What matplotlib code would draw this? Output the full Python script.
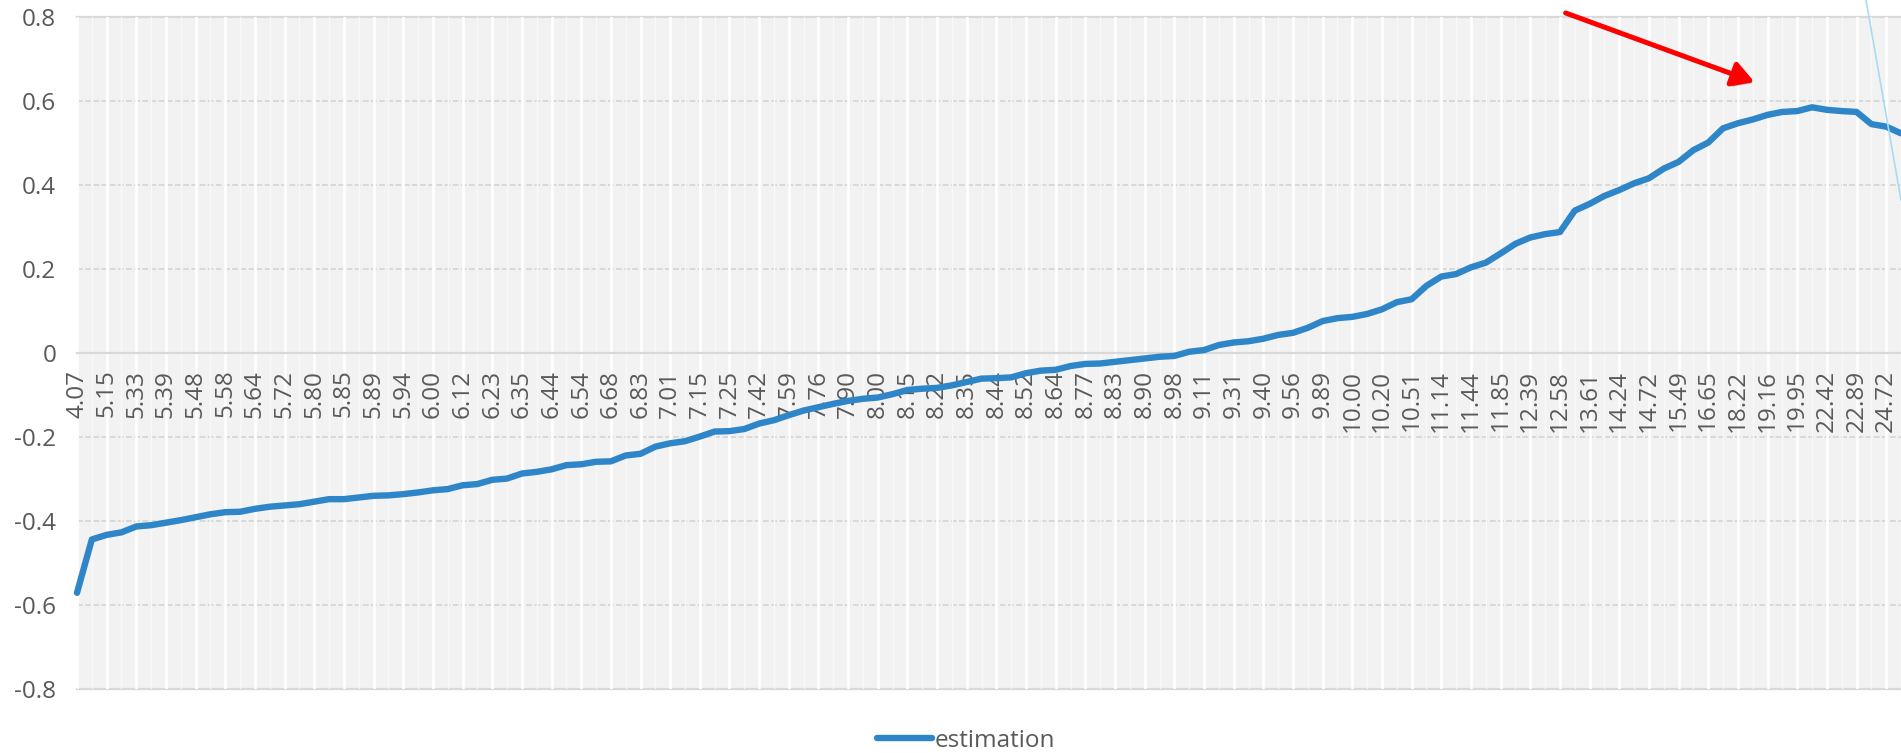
import matplotlib
matplotlib.use("Agg")
import matplotlib.pyplot as plt
import matplotlib.patheffects as pe
from matplotlib.patches import FancyArrowPatch
from matplotlib.lines import Line2D

plt.rcParams['font.family'] = ['Open Sans', 'DejaVu Sans']

# ---- data ----
tick_labels = ["4.07", "5.15", "5.33", "5.39", "5.48", "5.58", "5.64", "5.72", "5.80", "5.85",
               "5.89", "5.94", "6.00", "6.12", "6.23", "6.35", "6.44", "6.54", "6.68", "6.83",
               "7.01", "7.15", "7.25", "7.42", "7.59", "7.76", "7.90", "8.00", "8.15", "8.22",
               "8.35", "8.44", "8.52", "8.64", "8.77", "8.83", "8.90", "8.98", "9.11", "9.31",
               "9.40", "9.56", "9.89", "10.00", "10.20", "10.51", "11.14", "11.44", "11.85", "12.39",
               "12.58", "13.61", "14.24", "14.72", "15.49", "16.65", "18.22", "19.16", "19.95", "22.42",
               "22.89", "24.72"]

estimation = [-0.571, -0.444, -0.433, -0.427, -0.413, -0.410, -0.404, -0.398, -0.391, -0.384,
              -0.379, -0.378, -0.371, -0.366, -0.363, -0.360, -0.354, -0.348, -0.348, -0.344,
              -0.340, -0.339, -0.336, -0.332, -0.327, -0.324, -0.315, -0.312, -0.302, -0.299,
              -0.287, -0.283, -0.277, -0.267, -0.265, -0.259, -0.258, -0.244, -0.240, -0.223,
              -0.215, -0.210, -0.199, -0.187, -0.186, -0.181, -0.168, -0.160, -0.148, -0.137,
              -0.129, -0.121, -0.114, -0.109, -0.106, -0.098, -0.088, -0.085, -0.083, -0.077,
              -0.069, -0.061, -0.060, -0.058, -0.048, -0.042, -0.040, -0.031, -0.026, -0.025,
              -0.021, -0.017, -0.013, -0.009, -0.007, 0.003, 0.007, 0.019, 0.025, 0.028,
              0.034, 0.043, 0.048, 0.060, 0.076, 0.083, 0.086, 0.093, 0.104, 0.121,
              0.128, 0.160, 0.182, 0.188, 0.204, 0.215, 0.237, 0.260, 0.275, 0.283,
              0.288, 0.339, 0.355, 0.374, 0.388, 0.404, 0.416, 0.439, 0.455, 0.483,
              0.501, 0.535, 0.547, 0.556, 0.567, 0.574, 0.576, 0.585, 0.579, 0.576,
              0.574, 0.545, 0.539, 0.523]

label_step = 2
y_ticks = [-0.8, -0.6, -0.4, -0.2, 0, 0.2, 0.4, 0.6, 0.8]
y_tick_labels = ["-0.8", "-0.6", "-0.4", "-0.2", "0", "0.2", "0.4", "0.6", "0.8"]

# ---- figure ----
W, H = 1901, 753
fig = plt.figure(figsize=(W / 100, H / 100), dpi=100)
left, right, top, bottom = 77, 1901, 17, 689
ax = fig.add_axes([left / W, 1 - bottom / H, (right - left) / W, (bottom - top) / H])

n = len(estimation)
x = list(range(n))
ax.set_xlim(0, n - 1)
ax.set_ylim(-0.8, 0.8)
ax.set_facecolor('#F2F2F2')

text_color = '#595959'
grid_color = '#D9D9D9'
fs = 17.5

# vertical gridlines (white stripes at labelled categories, faint ones elsewhere)
for i in x:
    if i % label_step == 0:
        ax.axvline(i, color='white', lw=1.9, zorder=1)
    else:
        ax.axvline(i, color='#F8F8F8', lw=1.0, zorder=1)

# horizontal gridlines
for yv in y_ticks:
    if yv in (-0.8, 0.8):
        ax.axhline(yv, color=grid_color, lw=1.6, zorder=0.5, clip_on=False)
    elif yv == 0:
        continue
    else:
        ax.axhline(yv, color=grid_color, lw=1.4, ls=(0, (3, 1.2)), zorder=0.5)

ax.plot(x, estimation, color='#2E86C8', lw=4.6, solid_joinstyle='round',
        solid_capstyle='round', zorder=3, clip_on=False, label='estimation')

for s in ['top', 'right', 'left']:
    ax.spines[s].set_visible(False)
ax.spines['bottom'].set_position(('data', 0))
ax.spines['bottom'].set_color(grid_color)
ax.spines['bottom'].set_linewidth(1.6)
ax.spines['bottom'].set_zorder(2)

ax.set_xticks(x[::label_step])
ax.set_xticklabels(tick_labels, rotation=90, fontsize=fs, color=text_color)
ax.tick_params(axis='x', length=0, pad=12)
ax.set_yticks(y_ticks)
ax.set_yticklabels(y_tick_labels, fontsize=fs, color=text_color)
ax.tick_params(axis='y', length=0, pad=15)

leg = fig.legend(loc='center', bbox_to_anchor=(966 / W, 1 - 741 / H), frameon=False,
                 fontsize=fs, handlelength=2.3, handletextpad=0.1, borderpad=0)
for t in leg.get_texts():
    t.set_color(text_color)

# thin cyan line in upper right
fig.add_artist(Line2D([1866 / W, 1901 / W], [1.0, 1 - 200 / H], transform=fig.transFigure,
                      color='#A6DDF2', lw=1.2))

# red arrow
arrow = FancyArrowPatch((1563 / W, 1 - 12 / H), (1757 / W, 1 - 83 / H),
                        transform=fig.transFigure, arrowstyle='-|>,head_length=13,head_width=7.5',
                        color='#FF0000', lw=3.6, mutation_scale=1, zorder=10,
                        path_effects=[pe.SimplePatchShadow(offset=(2, -2), alpha=0.3), pe.Normal()])
fig.add_artist(arrow)

fig.savefig('out.png', dpi=100)
